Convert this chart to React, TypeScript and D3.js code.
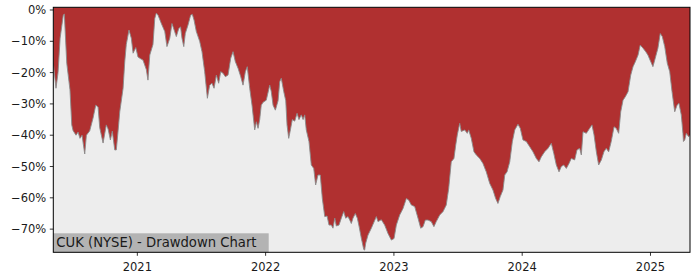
import React from "react";
import * as d3 from "d3";

// Decimal-year dates and drawdown values (%)
const dates: number[] = [
  2020.345, 2020.366, 2020.382, 2020.398, 2020.423, 2020.431, 2020.450, 2020.475, 2020.489, 2020.499,
  2020.522, 2020.538, 2020.553, 2020.569, 2020.590, 2020.603, 2020.629, 2020.655, 2020.676, 2020.694,
  2020.707, 2020.733, 2020.758, 2020.772, 2020.790, 2020.805, 2020.824, 2020.836, 2020.850, 2020.863,
  2020.889, 2020.902, 2020.914, 2020.935, 2020.953, 2020.967, 2020.988, 2021.005, 2021.023, 2021.044,
  2021.070, 2021.083, 2021.097, 2021.122, 2021.136, 2021.148, 2021.161, 2021.187, 2021.214, 2021.231,
  2021.253, 2021.270, 2021.291, 2021.304, 2021.323, 2021.337, 2021.348, 2021.362, 2021.374, 2021.395,
  2021.416, 2021.429, 2021.442, 2021.460, 2021.486, 2021.504, 2021.525, 2021.546, 2021.564, 2021.582,
  2021.598, 2021.616, 2021.634, 2021.650, 2021.668, 2021.686, 2021.707, 2021.728, 2021.746, 2021.764,
  2021.785, 2021.806, 2021.824, 2021.842, 2021.857, 2021.876, 2021.894, 2021.915, 2021.928, 2021.941,
  2021.954, 2021.966, 2021.980, 2022.005, 2022.032, 2022.044, 2022.058, 2022.076, 2022.097, 2022.110,
  2022.122, 2022.141, 2022.157, 2022.167, 2022.180, 2022.193, 2022.208, 2022.227, 2022.245, 2022.260,
  2022.278, 2022.292, 2022.305, 2022.317, 2022.338, 2022.356, 2022.375, 2022.390, 2022.408, 2022.426,
  2022.442, 2022.461, 2022.479, 2022.494, 2022.512, 2022.525, 2022.539, 2022.551, 2022.572, 2022.590,
  2022.609, 2022.624, 2022.642, 2022.656, 2022.668, 2022.681, 2022.699, 2022.715, 2022.728, 2022.746,
  2022.765, 2022.772, 2022.780, 2022.798, 2022.824, 2022.863, 2022.876, 2022.902, 2022.928, 2022.954,
  2022.980, 2023.001, 2023.019, 2023.045, 2023.071, 2023.097, 2023.115, 2023.136, 2023.162, 2023.188,
  2023.209, 2023.227, 2023.245, 2023.266, 2023.291, 2023.312, 2023.330, 2023.357, 2023.383, 2023.408,
  2023.427, 2023.447, 2023.468, 2023.482, 2023.494, 2023.513, 2023.525, 2023.552, 2023.572, 2023.583,
  2023.603, 2023.624, 2023.642, 2023.669, 2023.694, 2023.720, 2023.747, 2023.772, 2023.793, 2023.811,
  2023.829, 2023.850, 2023.864, 2023.882, 2023.903, 2023.923, 2023.942, 2023.967, 2023.985, 2024.006,
  2024.032, 2024.059, 2024.084, 2024.110, 2024.131, 2024.149, 2024.175, 2024.201, 2024.227, 2024.246,
  2024.266, 2024.287, 2024.305, 2024.324, 2024.344, 2024.365, 2024.383, 2024.409, 2024.427, 2024.448,
  2024.461, 2024.474, 2024.500, 2024.526, 2024.544, 2024.560, 2024.578, 2024.596, 2024.617, 2024.637,
  2024.655, 2024.674, 2024.694, 2024.716, 2024.733, 2024.752, 2024.768, 2024.786, 2024.804, 2024.825,
  2024.846, 2024.864, 2024.882, 2024.903, 2024.920, 2024.942, 2024.963, 2024.980, 2025.002, 2025.019,
  2025.037, 2025.058, 2025.076, 2025.092, 2025.111, 2025.131, 2025.150, 2025.168, 2025.189, 2025.207,
  2025.222, 2025.240, 2025.253, 2025.257, 2025.267, 2025.279, 2025.298, 2025.308,
];

const drawdown: number[] = [
  -17, -25, -20, -9, -1.6, -1.3, -17, -25.5, -36.7, -38.5,
  -40, -39, -41, -40, -46, -40, -38.6, -34.5, -30.4, -31,
  -37.6, -42.5, -36.7, -38, -41.5, -38.7, -44.7, -44.7, -38.6, -32.5,
  -25, -16.5, -11, -6.4, -9, -13.8, -12, -15, -15.5, -16,
  -19, -22.4, -14.4, -11, -2.7, -1, -1.6, -4.3, -6.9, -11.7,
  -9, -4.3, -6.9, -8.5, -5.9, -5.4, -9, -11.7, -7.5, -4.8,
  -1.6, -1.4, -3.2, -6.9, -10, -13.3, -19.7, -28.2, -24, -23.4,
  -25, -20.8, -23.4, -19.7, -20.2, -21.3, -20.8, -15.4, -13.3, -16.5,
  -18.6, -21.3, -24, -19.7, -18.1, -25, -30.4, -38.3, -35.7, -37.8,
  -35, -30.4, -29.5, -28.8, -24, -26, -30.4, -32, -29, -22.9,
  -21.8, -26, -29, -36.7, -41, -38.3, -35, -35.5, -33, -35,
  -33.5, -35, -33.5, -38.3, -42, -49.5, -50.6, -55.9, -52.7, -52.7,
  -60.2, -66, -65.8, -68.7, -68.7, -69.7, -66.5, -69, -68.7, -66.5,
  -64.4, -66.5, -66, -67.1, -68.2, -66.5, -65, -66.5, -69, -72.9,
  -76.5, -76.7, -74.5, -71.9, -69.7, -66, -67.6, -67, -68.7, -71.4,
  -73.5, -73, -68.7, -65.5, -63.4, -60.2, -60.7, -62.3, -62.8, -66.5,
  -69.7, -69.2, -67.1, -67.1, -67.6, -69.2, -67.6, -65.5, -64.4, -62.3,
  -57, -48.5, -47.4, -43.1, -39.9, -36.2, -38.8, -38.3, -39.4, -38.3,
  -41, -45.3, -46.3, -47.4, -49, -51.7, -55.4, -57.5, -60.2, -61.8,
  -59.6, -57.5, -52.7, -51.7, -48.5, -42.1, -38.3, -36.5, -37.8, -41.5,
  -42, -43.7, -45.3, -47.4, -48.5, -46.9, -45.3, -44.2, -42.6, -45.8,
  -49.5, -51.7, -50, -49.5, -50.6, -49, -47.4, -47.9, -44.7, -44.2,
  -46.3, -38.9, -39.4, -37.8, -36.7, -39.9, -45.3, -49.5, -47.9, -45.3,
  -44.2, -45.3, -42, -37.3, -37.8, -39.4, -32.5, -28.8, -27.7, -26.1,
  -20.8, -18.1, -16.5, -14.4, -11.2, -12.2, -13.3, -14.4, -16.5, -18.1,
  -15.4, -12.2, -7.5, -8.5, -11.7, -17, -19.7, -26.1, -32.5, -30.4,
  -29.8, -33.5, -39.4, -42, -41.5, -39.4, -40.5, -40,
];

const yTicks: number[] = [0, -10, -20, -30, -40, -50, -60, -70];
const xTicks: number[] = [2021, 2022, 2023, 2024, 2025];
const title = "CUK (NYSE) - Drawdown Chart";

export default function App() {
  const W = 700, H = 280;
  const left = 53.3, right = 690, top = 7.3, bottom = 252.3;
  const x = d3.scaleLinear().domain([dates[0], dates[dates.length - 1]]).range([left, right]);
  const y = d3.scaleLinear().domain([0.86, -77.4]).range([top, bottom]);
  const pts = dates.map((d, i) => [d, drawdown[i]] as [number, number]);
  const area = d3.area<[number, number]>().x(d => x(d[0])).y0(top).y1(d => y(d[1]));
  const line = d3.line<[number, number]>().x(d => x(d[0])).y(d => y(d[1]));
  const font = "DejaVu Sans, sans-serif";
  const fmt = (v: number) => (v < 0 ? "\u2212" + Math.abs(v) : String(v)) + "%";
  return (
    <svg width={W} height={H} style={{ position: "absolute", left: 0, top: 0 }} fontFamily={font}>
      <rect x={0} y={0} width={W} height={H} fill="#ffffff" />
      <defs>
        <clipPath id="plotclip">
          <rect x={left} y={top} width={right - left} height={bottom - top} />
        </clipPath>
      </defs>
      <rect x={left} y={top} width={right - left} height={bottom - top} fill="#ededed" />
      <g clipPath="url(#plotclip)">
        <path d={area(pts) || ""} fill="#b03030" />
        <path d={line(pts) || ""} fill="none" stroke="#8a8a8a" strokeWidth={0.9} />
      </g>
      <rect x={left} y={233.3} width={215.4} height={bottom - 233.3} fill="#b3b3b3" />
      <text x={left + 3} y={247} fontSize={13.2} fill="#1a1a1a">{title}</text>
      <rect x={left} y={top} width={right - left} height={bottom - top} fill="none" stroke="#000" strokeWidth={1} />
      {yTicks.map(t => (
        <g key={t}>
          <line x1={left - 3.5} x2={left} y1={y(t)} y2={y(t)} stroke="#000" strokeWidth={0.8} />
          <text x={left - 7} y={y(t)} dy="0.35em" textAnchor="end" fontSize={11.5} fill="#1a1a1a">{fmt(t)}</text>
        </g>
      ))}
      {xTicks.map(t => (
        <g key={t}>
          <line x1={x(t)} x2={x(t)} y1={bottom} y2={bottom + 3.5} stroke="#000" strokeWidth={0.8} />
          <text x={x(t)} y={270.5} textAnchor="middle" fontSize={11.5} fill="#1a1a1a">{t}</text>
        </g>
      ))}
    </svg>
  );
}
